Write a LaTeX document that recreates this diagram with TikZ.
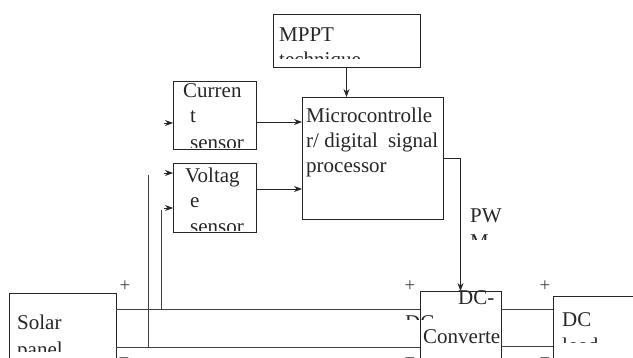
\documentclass[tikz,border=0pt]{standalone}
\usepackage{fontspec}
\setmainfont{Liberation Serif}
\usetikzlibrary{arrows.meta}
\begin{document}
\begin{tikzpicture}[x=1pt,y=-1pt,
  box/.style={draw=black!85,line width=0.8pt,inner sep=0pt,outer sep=0pt,anchor=north west},
  lbl/.style={anchor=base west,inner sep=0pt,font=\fontsize{21}{25}\selectfont,text=black!85},
  sgn/.style={inner sep=0pt,font=\fontsize{19}{21}\selectfont,text=black!75},
  wire/.style={draw=black!75,line width=0.8pt},
  arr/.style={draw=black!85,line width=0.8pt,-{Stealth[length=8pt,width=6pt]}}]
\useasboundingbox (0,0) rectangle (633,358);
% boxes
\node[box,minimum width=147pt,minimum height=53pt] (mppt) at (273,14) {};
\node[box,minimum width=141pt,minimum height=122pt] (micro) at (302,97) {};
\node[box,minimum width=83pt,minimum height=68pt] (cur) at (173,81) {};
\node[box,minimum width=83pt,minimum height=69pt] (volt) at (173,163) {};
\node[box,minimum width=107pt,minimum height=80pt] (solar) at (9,293) {};
\node[box,minimum width=81pt,minimum height=80pt] (conv) at (420,291) {};
\node[box,minimum width=90pt,minimum height=80pt] (load) at (553,296) {};
% texts
\begin{scope}\clip (273,14) rectangle (420,59);
\node[lbl] (t1) at (279,42) {MPPT};
\node[lbl] (t2) at (279,67) {technique};
\end{scope}
\node[lbl] (t3) at (306,123) {Microcontrolle};
\node[lbl] (t4) at (306,148) {\makebox[132pt][s]{r/ digital\hfill signal}};
\node[lbl] (t5) at (306,173) {processor};
\begin{scope}\clip (173,81) rectangle (256,148);
\node[lbl] (t6) at (183,98) {Curren};
\node[lbl] (t7) at (190,123) {t};
\node[lbl] (t8) at (190,150) {sensor};
\end{scope}
\begin{scope}\clip (173,163) rectangle (256,231);
\node[lbl] (t9) at (185,183) {Voltag};
\node[lbl] (t10) at (190,208) {e};
\node[lbl] (t11) at (190,234) {sensor};
\end{scope}
\begin{scope}\clip (9,293) rectangle (116,352);
\node[lbl] (t12) at (17,330) {Solar};
\node[lbl] (t13) at (17,357) {panel};
\end{scope}
\node[lbl] (t14) at (458,305) {DC-};
\node[lbl] (t15) at (423,344) {Converte};
\begin{scope}\clip (400,300) rectangle (440,320);
\node[lbl] (t16) at (405,330) {DC};
\end{scope}
\begin{scope}\clip (465,200) rectangle (520,240);
\node[lbl] (t17) at (470,223) {PW};
\node[lbl] (t18) at (470,249) {M};
\end{scope}
\begin{scope}\clip (555,300) rectangle (633,343);
\node[lbl] (t19) at (562,327) {DC};
\node[lbl] (t20) at (562,353) {load};
\end{scope}
% signs
\node[sgn] (p1) at (125,286) {+};
\node[sgn] (p2) at (410,286) {+};
\node[sgn] (p3) at (545,286) {+};
\node[sgn,anchor=base] (m1) at (124,365) {−};
\node[sgn,anchor=base] (m2) at (410,365) {−};
\node[sgn,anchor=base] (m3) at (545,365) {−};
% control arrows
\coordinate (co) at ([yshift=-7pt]cur.east);
\coordinate (vo) at ([yshift=8.5pt]volt.east);
\draw[arr] (mppt.south) -- (mppt.south |- micro.north);
\draw[arr] (co) -- (micro.west |- co);
\draw[arr] (vo) -- (micro.west |- vo);
\draw[arr] (micro.east) -| (conv.north);
\coordinate (ci) at (164,123);
\coordinate (vi1) at (164,173);
\coordinate (vi2) at (164,208);
\draw[arr] (ci) -- (cur.west |- ci);
\draw[arr] (vi1) -- (volt.west |- vi1);
\draw[arr] (vi2) -- (volt.west |- vi2);
% power wires
\coordinate (sT) at (116,309);
\coordinate (sB) at (116,347);
\coordinate (cT) at (501,309);
\coordinate (cB) at (501,346);
\draw[wire] (sT) -- (conv.west |- sT);
\draw[wire] (sB) -- (conv.west |- sB);
\draw[wire] (cT) -- (load.west |- cT);
\draw[wire] (cB) -- (load.west |- cB);
% sense lines
\coordinate (vs1) at (148,175);
\coordinate (vs2) at (161,210);
\draw[wire] (vs1) -- (vs1 |- sB);
\draw[wire] (vs2) -- (vs2 |- sT);
\end{tikzpicture}
\end{document}
